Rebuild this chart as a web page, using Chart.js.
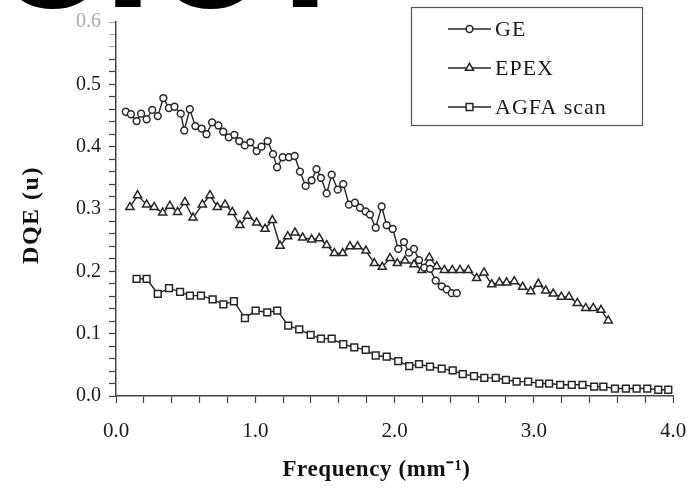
<!DOCTYPE html>
<html>
<head>
<meta charset="utf-8">
<script src="https://cdn.jsdelivr.net/npm/chart.js@4/dist/chart.umd.min.js"></script>
<style>
  html, body { margin: 0; padding: 0; background: #fff; }
  #wrap { position: relative; width: 693px; height: 492px; overflow: hidden; background: #fff; }
  #c { position: absolute; left: 0; top: 0; }
  .big { position: absolute; font-family: 'Liberation Sans', Arial, sans-serif; font-weight: bold; color: #000; line-height: 1; transform: translateX(-50%); white-space: pre; z-index: 2; }
</style>
</head>
<body>
<div id="wrap">
  <canvas id="c" width="693" height="492"></canvas>
  <span class="big" style="font-size:250px; left:53px; top:-204px;">0</span>
  <span class="big" style="font-size:180px; left:128px; top:-145px;">.</span>
  <span class="big" style="font-size:250px; left:211px; top:-204px;">0</span>
  <span class="big" style="font-size:170px; left:305px; top:-137px;">I</span>
</div>
<script>
// ---- data ----
const seriesLabels = ['GE', 'EPEX', 'AGFA scan'];

const geFreq = [0.07,0.107,0.148,0.18,0.22,0.26,0.30,0.34,0.38,0.42,0.465,0.49,0.53,0.57,0.615,0.65,0.69,0.735,0.77,0.81,0.85,0.885,0.925,0.965,1.01,1.045,1.089,1.128,1.157,1.197,1.242,1.283,1.321,1.362,1.405,1.44,1.472,1.513,1.549,1.592,1.632,1.673,1.716,1.752,1.793,1.824,1.865,1.908,1.944,1.987,2.027,2.068,2.104,2.14,2.176,2.214,2.255,2.296,2.339,2.375,2.411,2.447];
const geDqe  = [0.456,0.452,0.441,0.453,0.444,0.459,0.449,0.478,0.462,0.464,0.453,0.426,0.460,0.433,0.429,0.420,0.439,0.434,0.424,0.415,0.419,0.409,0.402,0.407,0.393,0.400,0.409,0.388,0.367,0.383,0.383,0.385,0.360,0.337,0.346,0.364,0.350,0.325,0.355,0.331,0.340,0.307,0.310,0.302,0.296,0.291,0.270,0.304,0.274,0.268,0.236,0.247,0.230,0.236,0.218,0.206,0.204,0.185,0.176,0.171,0.165,0.165];

const epexFreq = [0.10,0.155,0.22,0.274,0.335,0.387,0.442,0.495,0.553,0.62,0.675,0.728,0.783,0.835,0.89,0.945,1.01,1.07,1.123,1.178,1.233,1.285,1.34,1.405,1.46,1.513,1.568,1.628,1.68,1.735,1.795,1.855,1.912,1.968,2.02,2.075,2.14,2.197,2.25,2.303,2.358,2.415,2.47,2.53,2.59,2.643,2.698,2.753,2.805,2.86,2.92,2.978,3.033,3.086,3.14,3.198,3.253,3.313,3.373,3.427,3.483,3.535];
const epexDqe  = [0.303,0.322,0.307,0.303,0.294,0.305,0.295,0.311,0.286,0.307,0.322,0.303,0.307,0.295,0.274,0.289,0.278,0.268,0.282,0.241,0.256,0.262,0.254,0.251,0.253,0.242,0.229,0.229,0.240,0.240,0.233,0.213,0.207,0.221,0.213,0.217,0.211,0.202,0.222,0.208,0.202,0.202,0.202,0.202,0.189,0.198,0.179,0.182,0.182,0.184,0.175,0.168,0.180,0.169,0.164,0.159,0.159,0.149,0.141,0.141,0.138,0.121];

const agfaFreq = [0.148,0.22,0.30,0.381,0.46,0.531,0.61,0.694,0.771,0.847,0.926,1.003,1.086,1.158,1.237,1.316,1.398,1.472,1.549,1.632,1.711,1.793,1.865,1.944,2.027,2.106,2.176,2.255,2.339,2.418,2.49,2.571,2.645,2.727,2.80,2.877,2.96,3.04,3.11,3.19,3.273,3.35,3.434,3.50,3.583,3.662,3.739,3.815,3.894,3.966];
const agfaDqe  = [0.188,0.188,0.164,0.173,0.167,0.161,0.161,0.155,0.147,0.152,0.125,0.137,0.134,0.137,0.113,0.107,0.098,0.092,0.092,0.083,0.078,0.074,0.065,0.063,0.056,0.048,0.051,0.047,0.044,0.041,0.035,0.032,0.029,0.029,0.026,0.023,0.023,0.020,0.020,0.018,0.018,0.018,0.015,0.015,0.012,0.012,0.012,0.012,0.010,0.010];

const xTitle = 'Frequency (mm\u207B\u00B9)';
const yTitle = 'DQE (u)';

// ---- chart ----
const INK = '#262626';
const pts = (xs, ys) => xs.map((x, i) => ({ x: x, y: ys[i] }));

function ds(label, xs, ys, style, radius) {
  return {
    label: label,
    data: pts(xs, ys),
    showLine: true,
    borderColor: INK,
    borderWidth: 1.4,
    pointStyle: style,
    pointRadius: radius,
    pointBorderWidth: 1.5,
    pointBorderColor: INK,
    pointBackgroundColor: '#fff',
    tension: 0,
    clip: false
  };
}

const legendPlugin = {
  id: 'boxLegend',
  afterDraw(chart) {
    const ctx = chart.ctx;
    const bx = 411.5, by = 7.5, bw = 231, bh = 118;
    ctx.save();
    ctx.strokeStyle = '#555';
    ctx.lineWidth = 1.2;
    ctx.strokeRect(bx, by, bw, bh);
    chart.data.datasets.forEach((d, i) => {
      const y = 29 + i * 39;
      ctx.strokeStyle = INK;
      ctx.lineWidth = 1.4;
      ctx.beginPath();
      ctx.moveTo(448, y);
      ctx.lineTo(491, y);
      ctx.stroke();
      ctx.fillStyle = '#fff';
      ctx.strokeStyle = INK;
      ctx.lineWidth = 1.5;
      Chart.helpers.drawPoint(ctx, { pointStyle: d.pointStyle, radius: d.pointRadius, borderWidth: 1.5, rotation: 0 }, 469.5, y);
      ctx.fillStyle = '#1a1a1a';
      ctx.font = '22px "Liberation Serif", "Times New Roman", serif';
      ctx.letterSpacing = '1px';
      ctx.textBaseline = 'middle';
      ctx.textAlign = 'left';
      ctx.fillText(d.label, 495, y + 1);
    });
    ctx.restore();
  }
};

// axis titles: letter spacing and a small shift to match the reference placement
const titleTweaks = { x: { spacing: '0.6px', dx: -18, dy: 0 }, y: { spacing: '1.5px', dx: 0, dy: 6 } };
const titleSpacingPlugin = {
  id: 'titleSpacing',
  beforeDraw(chart) {
    Object.values(chart.scales).forEach(s => {
      if (s._spaced) return;
      const tw = titleTweaks[s.id] || { spacing: '0px', dx: 0, dy: 0 };
      const orig = s.drawTitle.bind(s);
      s.drawTitle = function () {
        const c = this.ctx;
        c.save();
        c.letterSpacing = tw.spacing;
        c.translate(tw.dx, tw.dy);
        orig();
        c.restore();
      };
      s._spaced = true;
    });
  }
};

const isMajor = (v, step) => Math.abs(v / step - Math.round(v / step)) < 1e-6;

new Chart(document.getElementById('c'), {
  type: 'scatter',
  data: {
    datasets: [
      ds(seriesLabels[0], geFreq, geDqe, 'circle', 3.4),
      ds(seriesLabels[1], epexFreq, epexDqe, 'triangle', 4.7),
      ds(seriesLabels[2], agfaFreq, agfaDqe, 'rect', 4.8)
    ]
  },
  options: {
    responsive: false,
    animation: false,
    devicePixelRatio: 1,
    layout: { padding: { top: 22, right: 20, left: 0, bottom: 0 } },
    plugins: { legend: { display: false }, tooltip: { enabled: false } },
    scales: {
      x: {
        type: 'linear',
        min: 0, max: 4,
        afterFit(s) { s.height = 96; s.paddingLeft = 0; s.paddingRight = 0; },
        border: { display: true, color: '#444', width: 1.5 },
        grid: { display: true, drawOnChartArea: false, drawTicks: true, tickLength: 7, tickColor: '#444', tickWidth: 1.2 },
        ticks: {
          stepSize: 0.2, autoSkip: false, maxTicksLimit: 100, maxRotation: 0,
          padding: 16, color: '#1a1a1a',
          font: { family: '"Liberation Serif", "Times New Roman", serif', size: 21 },
          callback: v => isMajor(v, 1) ? v.toFixed(1) : ''
        },
        title: {
          display: true, text: xTitle, color: '#111',
          font: { family: '"Liberation Serif", "Times New Roman", serif', size: 23, weight: 'bold' },
          padding: { top: 0, bottom: 8 }
        }
      },
      y: {
        type: 'linear',
        min: 0, max: 0.6,
        afterFit(s) { s.width = 116; s.paddingTop = 0; s.paddingBottom = 0; },
        border: { display: true, color: '#444', width: 1.5 },
        grid: { display: true, drawOnChartArea: false, drawTicks: true, tickLength: 7,
                tickColor: c => (c.tick && c.tick.value > 0.55) ? '#aaa' : '#444', tickWidth: 1.2 },
        ticks: {
          stepSize: 0.02, autoSkip: false, maxTicksLimit: 100,
          padding: 8,
          color: c => (c.tick && c.tick.value > 0.55) ? '#aaa' : '#1a1a1a',
          font: { family: '"Liberation Serif", "Times New Roman", serif', size: 20 },
          callback: v => isMajor(v, 0.1) ? v.toFixed(1) : ''
        },
        title: {
          display: true, text: yTitle, color: '#111',
          font: { family: '"Liberation Serif", "Times New Roman", serif', size: 24, weight: 'bold' },
          padding: { top: 17, bottom: 0 }
        }
      }
    }
  },
  plugins: [legendPlugin, titleSpacingPlugin]
});
</script>
</body>
</html>
